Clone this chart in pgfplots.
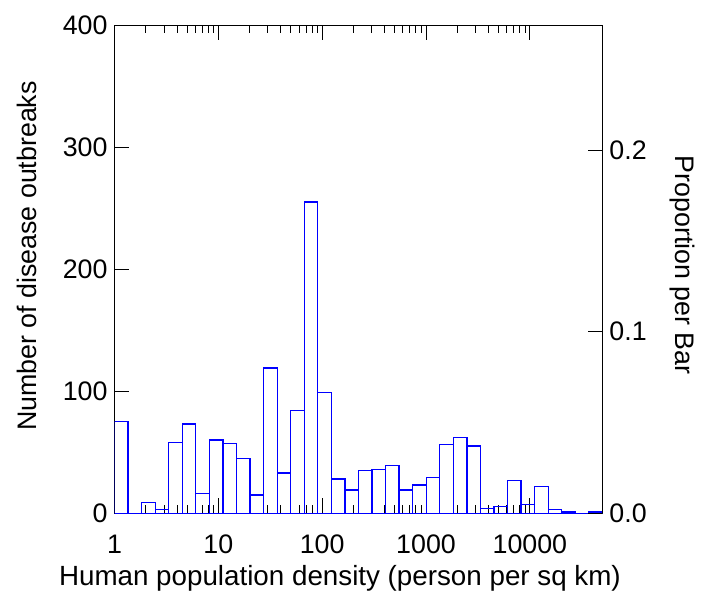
\documentclass[border=0pt]{standalone}
\usepackage{fontspec}
\setmainfont{Liberation Sans}
\usepackage{pgfplots}
\usepackage{pgfplotstable}
\pgfplotsset{compat=1.18}

% bin edges as log10 of density, 36 bins from 1 to 50000; last row closes the interval
\pgfplotstableread{
lx       n
0.000000 75
0.130527 0
0.261054 9
0.391581 3
0.522108 58
0.652635 73
0.783162 16
0.913689 60
1.044216 57
1.174743 45
1.305270 15
1.435797 119
1.566324 33
1.696851 84
1.827378 255
1.957905 99
2.088432 28
2.218959 19
2.349486 35
2.480013 36
2.610540 39
2.741067 19
2.871594 23
3.002121 29
3.132648 56
3.263175 62
3.393702 55
3.524229 4
3.654756 5.5
3.785283 27
3.915810 7
4.046337 22
4.176864 3
4.307391 1
4.437918 0
4.568445 1
4.698972 0
}\histdata

\begin{document}
\begin{tikzpicture}
\pgfplotsset{
  every axis/.append style={
    font=\fontsize{13.5}{16}\selectfont,
    scale only axis, width=246pt, height=246pt,
    xmode=log, xmin=1, xmax=50000,
    tick align=inside,
    major tick length=7.5pt, minor tick length=4pt,
    every tick/.style={black, line width=0.5pt},
    axis line style={line width=0.5pt},
    /pgf/number format/assume math mode=true,
  },
}
\begin{axis}[
  ymin=0, ymax=400,
  xtick={1,10,100,1000,10000},
  xticklabels={1,10,100,1000,10000},
  ytick={0,100,200,300,400},
  xtick pos=both, ytick pos=left,
  xticklabel style={yshift=-7.5pt},
  xlabel={Human population density (person per sq km)},
  ylabel={Number of disease outbreaks},
  xlabel style={at={(axis description cs:0.462,-0.133)}, anchor=center,
    font=\fontsize{14}{16}\selectfont},
  ylabel style={at={(axis description cs:-0.180,0.527)}, anchor=center},
]
\addplot[ybar interval, draw=blue, fill=none, line width=0.65pt]
  table[x expr=10^\thisrow{lx}, y=n] {\histdata};
\coordinate (sw) at (rel axis cs:0,0);
\coordinate (ne) at (rel axis cs:1,1);
\end{axis}
\begin{axis}[
  hide x axis,
  axis y line*=right,
  ymin=0, ymax=0.2690,
  ytick={0,0.1,0.2},
  yticklabel style={/pgf/number format/.cd, fixed, fixed zerofill, precision=1},
  ylabel={Proportion per Bar},
  ylabel style={at={(axis description cs:1.165,0.508)}, anchor=center, rotate=180},
]
\addplot[draw=none] coordinates {(1,0)};
\end{axis}
\path ([shift={(-57.75pt,-39.25pt)}]sw) rectangle ([shift={(47.15pt,12.75pt)}]ne);
\end{tikzpicture}
\end{document}
